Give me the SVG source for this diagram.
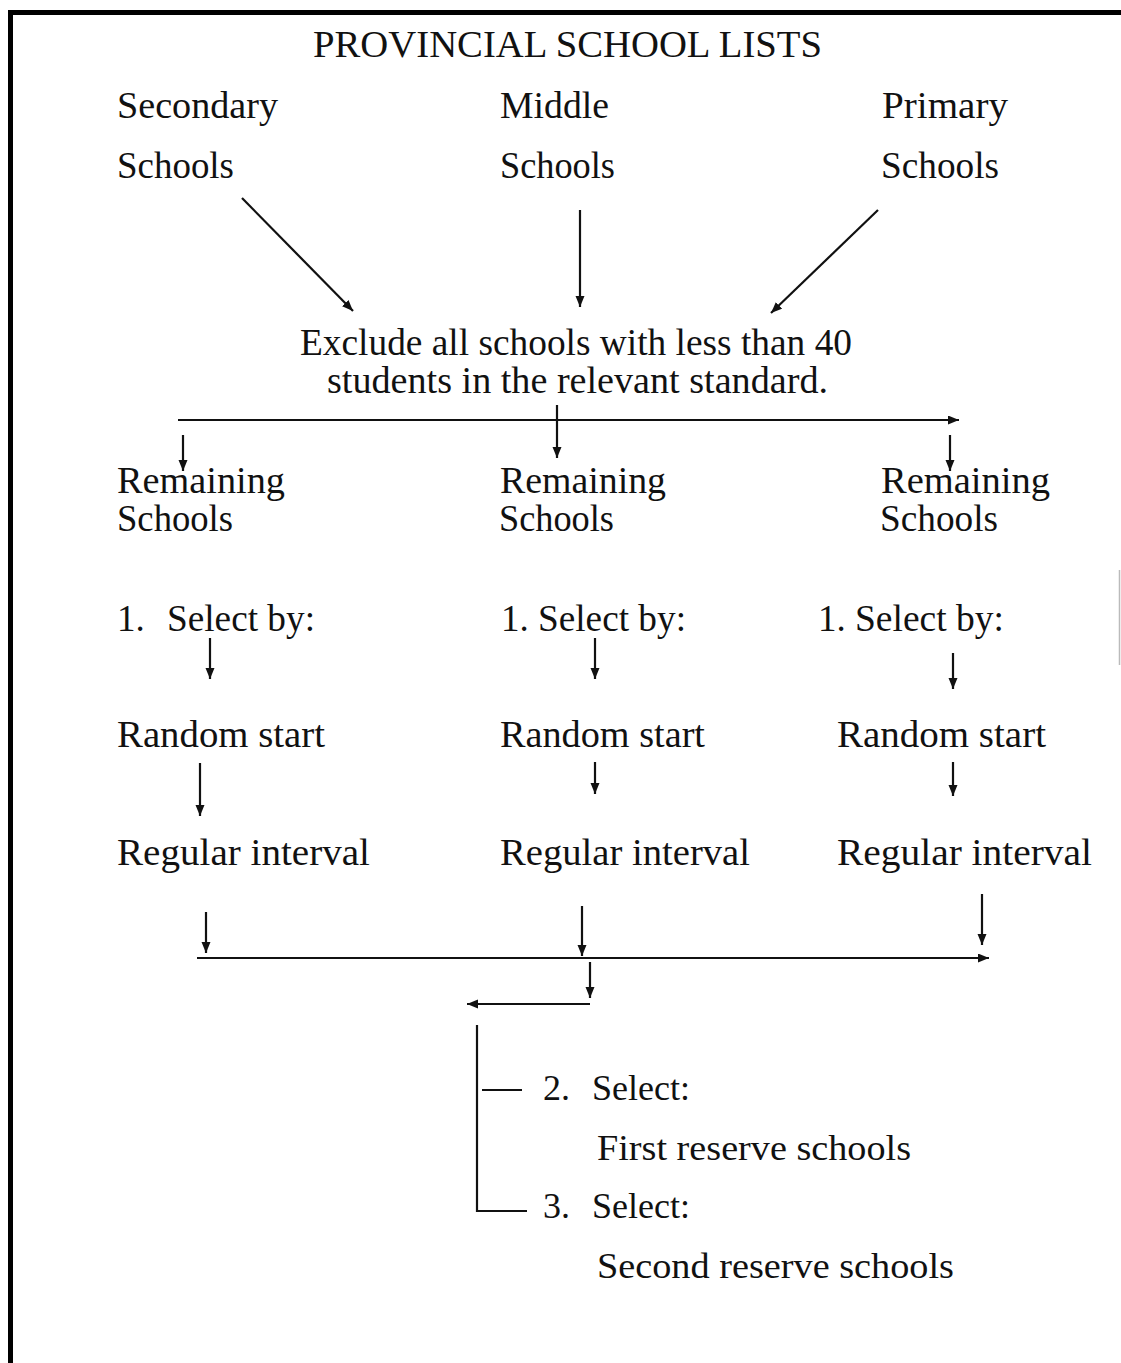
<svg xmlns="http://www.w3.org/2000/svg" width="1121" height="1363" viewBox="0 0 1121 1363">
  <style>
    text { font-family: "Liberation Serif", "DejaVu Serif", serif; font-size: 37px; fill: #111; }
    .title { font-size: 38px; }
    .lbl { font-size: 36px; }
    .ln { stroke: #111; stroke-width: 2.2; fill: none; }
    .arr { stroke: #111; stroke-width: 2.2; fill: none; marker-end: url(#head); }
    .frame { stroke: #000; stroke-width: 5; fill: none; }
  </style>
  <defs>
    <marker id="head" markerUnits="userSpaceOnUse" markerWidth="12" markerHeight="10" refX="11" refY="4.5" orient="auto">
      <path d="M0,0 L11,4.5 L0,9 z" fill="#111"/>
    </marker>
  </defs>
  <rect width="1121" height="1363" fill="#fff"/>

  <!-- page frame -->
  <g id="frame">
    <path class="frame" d="M10.5,1363 V12.5 H1121"/>
    <line x1="1119.5" y1="570" x2="1119.5" y2="665" stroke="#bbb" stroke-width="1.5"/>
  </g>

  <g id="title"><text class="title" x="313" y="57" textLength="509" lengthAdjust="spacingAndGlyphs">PROVINCIAL SCHOOL LISTS</text></g>

  <g id="secondary">
    <text x="117" y="118" textLength="161" lengthAdjust="spacingAndGlyphs">Secondary</text>
    <text x="117" y="178" textLength="117" lengthAdjust="spacingAndGlyphs">Schools</text>
  </g>
  <g id="middle">
    <text x="500" y="118" textLength="109" lengthAdjust="spacingAndGlyphs">Middle</text>
    <text x="500" y="178" textLength="115" lengthAdjust="spacingAndGlyphs">Schools</text>
  </g>
  <g id="primary">
    <text x="882" y="118" textLength="126" lengthAdjust="spacingAndGlyphs">Primary</text>
    <text x="881" y="178" textLength="118" lengthAdjust="spacingAndGlyphs">Schools</text>
  </g>

  <g id="exclude">
    <text x="300" y="355" textLength="552" lengthAdjust="spacingAndGlyphs">Exclude all schools with less than 40</text>
    <text x="327" y="393" textLength="501" lengthAdjust="spacingAndGlyphs">students in the relevant standard.</text>
  </g>

  <g id="remaining-secondary">
    <text x="117" y="493" textLength="168" lengthAdjust="spacingAndGlyphs">Remaining</text>
    <text x="117" y="531" textLength="116" lengthAdjust="spacingAndGlyphs">Schools</text>
  </g>
  <g id="remaining-middle">
    <text x="500" y="493" textLength="166" lengthAdjust="spacingAndGlyphs">Remaining</text>
    <text x="499" y="531" textLength="115" lengthAdjust="spacingAndGlyphs">Schools</text>
  </g>
  <g id="remaining-primary">
    <text x="881" y="493" textLength="169" lengthAdjust="spacingAndGlyphs">Remaining</text>
    <text x="880" y="531" textLength="118" lengthAdjust="spacingAndGlyphs">Schools</text>
  </g>

  <g id="select-secondary"><text y="631"><tspan x="117">1.</tspan> <tspan x="167" textLength="148" lengthAdjust="spacingAndGlyphs">Select by:</tspan></text></g>
  <g id="select-middle"><text y="631"><tspan x="501">1.</tspan> <tspan x="538" textLength="148" lengthAdjust="spacingAndGlyphs">Select by:</tspan></text></g>
  <g id="select-primary"><text y="631"><tspan x="818">1.</tspan> <tspan x="855" textLength="149" lengthAdjust="spacingAndGlyphs">Select by:</tspan></text></g>

  <g id="random-secondary"><text x="117" y="747" textLength="208" lengthAdjust="spacingAndGlyphs">Random start</text></g>
  <g id="random-middle"><text x="500" y="747" textLength="205" lengthAdjust="spacingAndGlyphs">Random start</text></g>
  <g id="random-primary"><text x="837" y="747" textLength="209" lengthAdjust="spacingAndGlyphs">Random start</text></g>

  <g id="interval-secondary"><text x="117" y="865" textLength="253" lengthAdjust="spacingAndGlyphs">Regular interval</text></g>
  <g id="interval-middle"><text x="500" y="865" textLength="250" lengthAdjust="spacingAndGlyphs">Regular interval</text></g>
  <g id="interval-primary"><text x="837" y="865" textLength="255" lengthAdjust="spacingAndGlyphs">Regular interval</text></g>

  <g id="reserve-first">
    <text class="lbl" y="1100"><tspan x="543">2.</tspan> <tspan x="592" textLength="98" lengthAdjust="spacingAndGlyphs">Select:</tspan></text>
    <text class="lbl" x="597" y="1160" textLength="314" lengthAdjust="spacingAndGlyphs">First reserve schools</text>
  </g>
  <g id="reserve-second">
    <text class="lbl" y="1218"><tspan x="543">3.</tspan> <tspan x="592" textLength="98" lengthAdjust="spacingAndGlyphs">Select:</tspan></text>
    <text class="lbl" x="597" y="1278" textLength="357" lengthAdjust="spacingAndGlyphs">Second reserve schools</text>
  </g>

  <!-- connectors -->
  <g id="connectors">
    <line class="arr" x1="242" y1="198" x2="353" y2="311"/>
    <line class="arr" x1="580" y1="210" x2="580" y2="307"/>
    <line class="arr" x1="878" y1="210" x2="771" y2="313"/>

    <line class="arr" x1="178" y1="420" x2="959" y2="420"/>
    <line class="arr" x1="557" y1="405" x2="557" y2="458" stroke-width="2.5"/>
    <line class="arr" x1="183" y1="435" x2="183" y2="471"/>
    <line class="arr" x1="950" y1="435" x2="950" y2="471"/>

    <line class="arr" x1="210" y1="638" x2="210" y2="679"/>
    <line class="arr" x1="595" y1="638" x2="595" y2="679"/>
    <line class="arr" x1="953" y1="653" x2="953" y2="689"/>

    <line class="arr" x1="200" y1="763" x2="200" y2="816"/>
    <line class="arr" x1="595" y1="762" x2="595" y2="794"/>
    <line class="arr" x1="953" y1="762" x2="953" y2="796"/>

    <line class="arr" x1="206" y1="912" x2="206" y2="953"/>
    <line class="arr" x1="582" y1="906" x2="582" y2="956"/>
    <line class="arr" x1="982" y1="894" x2="982" y2="945"/>

    <line class="arr" x1="197" y1="958" x2="989" y2="958"/>
    <line class="arr" x1="590" y1="962" x2="590" y2="998"/>
    <line class="arr" x1="590" y1="1004" x2="467" y2="1004"/>

    <line class="ln" x1="477" y1="1025" x2="477" y2="1212"/>
    <line class="ln" x1="482" y1="1090" x2="522" y2="1090"/>
    <line class="ln" x1="477" y1="1211" x2="527" y2="1211"/>
  </g>
</svg>
